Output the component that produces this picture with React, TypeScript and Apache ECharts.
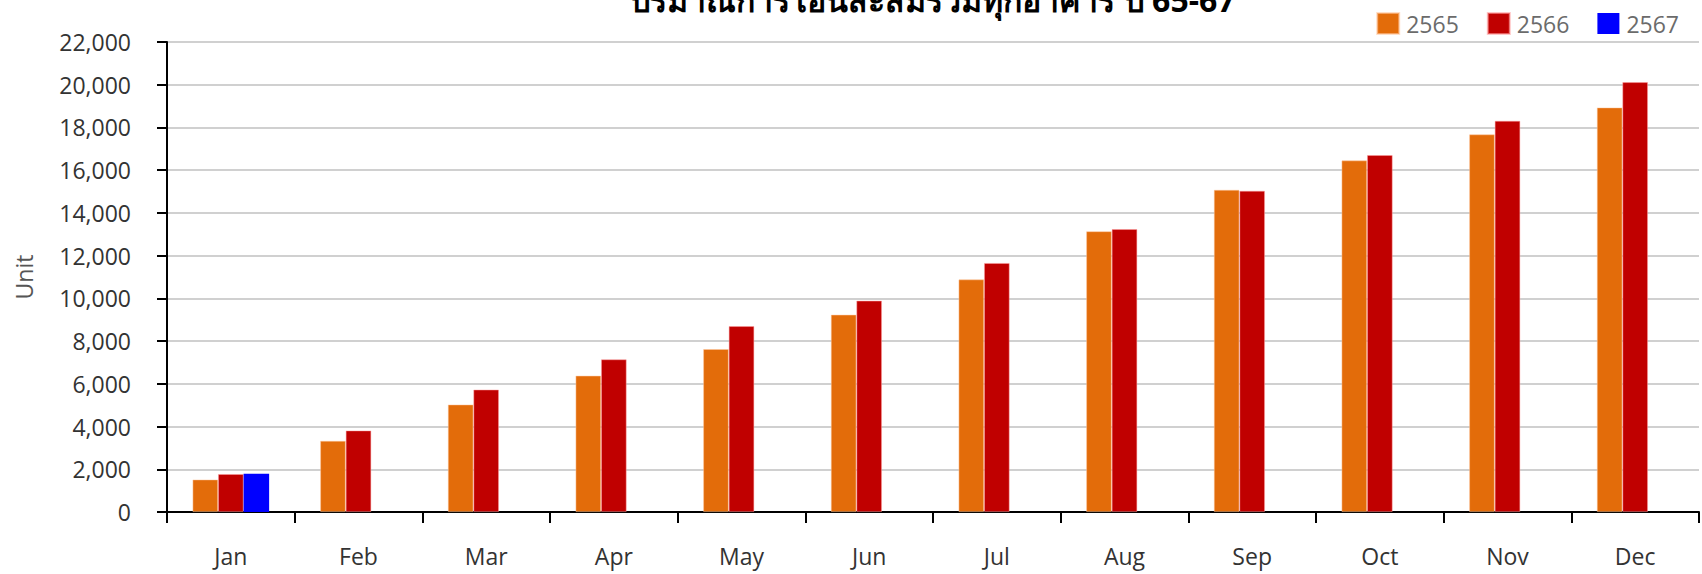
import React, { useEffect, useRef } from "react";
import * as echarts from "echarts";

const months = ["Jan", "Feb", "Mar", "Apr", "May", "Jun", "Jul", "Aug", "Sep", "Oct", "Nov", "Dec"];
const y2565 = [1520, 3330, 5030, 6380, 7625, 9235, 10885, 13140, 15080, 16455, 17675, 18935];
const y2566 = [1775, 3815, 5730, 7145, 8700, 9890, 11655, 13240, 15035, 16705, 18310, 20120];
const y2567 = [1790];
const yTicks = { min: 0, max: 22000, interval: 2000 };
const titleText = "ปริมาณการโอนสะสมรวมทุกอาคาร ปี 65-67";

const FONT = "'Open Sans', 'Noto Sans', 'Noto Sans CJK SC', sans-serif";

export default function App() {
  const ref = useRef<HTMLDivElement>(null);
  useEffect(() => {
    if (!ref.current) return;
    const chart = echarts.init(ref.current, null, { renderer: "svg" });
    chart.setOption({
      animation: false,
      backgroundColor: "#ffffff",
      textStyle: { fontFamily: FONT },
      graphic: [
        {
          type: "text",
          x: 933,
          y: -1,
          style: {
            text: titleText,
            fontSize: 32,
            fontWeight: "bold",
            fontFamily: FONT,
            fill: "#000000",
            align: "center",
            verticalAlign: "middle",
          },
        },
      ],
      legend: {
        right: 18,
        top: 7,
        itemWidth: 22,
        itemHeight: 21,
        itemGap: 28,
        icon: "rect",
        textStyle: { fontSize: 23, color: "#6b6b6b", fontFamily: FONT, padding: [0, 0, 0, 2] },
        data: ["2565", "2566", "2567"],
      },
      grid: { left: 167, right: 3, top: 42, bottom: 62, containLabel: false },
      xAxis: {
        type: "category",
        data: months,
        axisLine: { show: true, lineStyle: { color: "#000", width: 2 } },
        axisTick: { show: true, length: 11, lineStyle: { color: "#000", width: 2 } },
        axisLabel: { fontSize: 23, color: "#333", margin: 32, fontFamily: FONT },
        splitLine: { show: false },
      },
      yAxis: {
        type: "value",
        min: yTicks.min,
        max: yTicks.max,
        interval: yTicks.interval,
        name: "Unit",
        nameLocation: "middle",
        nameGap: 132,
        nameTextStyle: { fontSize: 23, color: "#555", fontFamily: FONT },
        axisLine: { show: true, lineStyle: { color: "#000", width: 2 } },
        axisTick: { show: true, length: 10, lineStyle: { color: "#000", width: 2 } },
        axisLabel: {
          fontSize: 23,
          color: "#333",
          margin: 36,
          fontFamily: FONT,
          formatter: (v: number) => v.toLocaleString("en-US"),
        },
        splitLine: { show: true, lineStyle: { color: "#c0c0c0", width: 1.5 } },
      },
      series: [
        {
          name: "2565",
          type: "bar",
          data: y2565,
          barGap: "0%",
          barCategoryGap: "40%",
          itemStyle: { color: "#E36C0A", borderColor: "rgba(255,200,160,0.6)", borderWidth: 0.8 },
        },
        {
          name: "2566",
          type: "bar",
          data: y2566,
          barGap: "0%",
          barCategoryGap: "40%",
          itemStyle: { color: "#C00000", borderColor: "rgba(255,160,160,0.6)", borderWidth: 0.8 },
        },
        {
          name: "2567",
          type: "bar",
          data: y2567,
          barGap: "0%",
          barCategoryGap: "40%",
          itemStyle: { color: "#0000FF" },
        },
      ],
    });
    return () => chart.dispose();
  }, []);
  return <div ref={ref} style={{ position: "fixed", left: 0, top: 0, width: 1702, height: 574 }} />;
}
